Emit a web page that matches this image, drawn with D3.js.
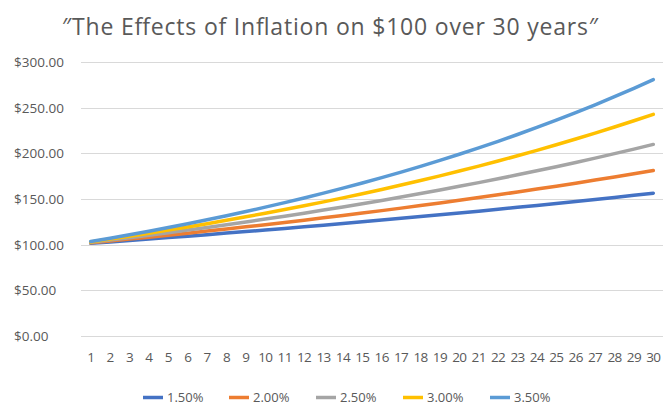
<!DOCTYPE html>
<html lang="en">
<head>
<meta charset="UTF-8">
<title>The Effects of Inflation on $100 over 30 years</title>
<script src="https://cdn.jsdelivr.net/npm/d3@7"></script>
<style>
  body { margin: 0; background: #fff; }
  text { font-family: "Open Sans", "Noto Sans", sans-serif; fill: #595959; }
</style>
</head>
<body>
<script>
// years 1..30
var years = d3.range(1, 31);
var seriesNames = ["1.50%", "2.00%", "2.50%", "3.00%", "3.50%"];
var seriesColors = ["#4472C4", "#ED7D31", "#A5A5A5", "#FFC000", "#5B9BD5"];
var yTicks = [0, 50, 100, 150, 200, 250, 300];

// value of $100 at end of each year
var rate150 = [101.50, 103.02, 104.57, 106.14, 107.73, 109.34, 110.98, 112.65, 114.34, 116.05,
               117.79, 119.56, 121.36, 123.18, 125.02, 126.90, 128.80, 130.73, 132.70, 134.69,
               136.71, 138.76, 140.84, 142.95, 145.09, 147.27, 149.48, 151.72, 154.00, 156.31];
var rate200 = [102.00, 104.04, 106.12, 108.24, 110.41, 112.62, 114.87, 117.17, 119.51, 121.90,
               124.34, 126.82, 129.36, 131.95, 134.59, 137.28, 140.02, 142.82, 145.68, 148.59,
               151.57, 154.60, 157.69, 160.84, 164.06, 167.34, 170.69, 174.10, 177.58, 181.14];
var rate250 = [102.50, 105.06, 107.69, 110.38, 113.14, 115.97, 118.87, 121.84, 124.89, 128.01,
               131.21, 134.49, 137.85, 141.30, 144.83, 148.45, 152.16, 155.97, 159.87, 163.86,
               167.96, 172.16, 176.46, 180.87, 185.39, 190.03, 194.78, 199.65, 204.64, 209.76];
var rate300 = [103.00, 106.09, 109.27, 112.55, 115.93, 119.41, 122.99, 126.68, 130.48, 134.39,
               138.42, 142.58, 146.85, 151.26, 155.80, 160.47, 165.28, 170.24, 175.35, 180.61,
               186.03, 191.61, 197.36, 203.28, 209.38, 215.66, 222.13, 228.79, 235.66, 242.73];
var rate350 = [103.50, 107.12, 110.87, 114.75, 118.77, 122.93, 127.23, 131.68, 136.29, 141.06,
               146.00, 151.11, 156.40, 161.87, 167.53, 173.40, 179.47, 185.75, 192.25, 198.98,
               205.94, 213.15, 220.61, 228.33, 236.32, 244.60, 253.16, 262.02, 271.19, 280.68];
var allSeries = [rate150, rate200, rate250, rate300, rate350];

var W = 663, H = 406;
var plotL = 81, plotR = 663, plotT = 62, plotB = 336;

var svg = d3.select("body").append("svg").attr("width", W).attr("height", H);

var x = d3.scaleBand().domain(years).range([plotL, plotR]);
var y = d3.scaleLinear().domain([0, 300]).range([plotB, plotT]);

// title
svg.append("text")
    .attr("x", 330).attr("y", 35)
    .attr("text-anchor", "middle")
    .attr("font-size", "23px")
    .attr("textLength", 536)
    .text("\u2033The Effects of Inflation on $100 over 30 years\u2033");

// gridlines
svg.append("g").selectAll("line").data(yTicks).enter().append("line")
    .attr("x1", plotL).attr("x2", plotR)
    .attr("y1", function (d) { return Math.round(y(d)) + 0.5; })
    .attr("y2", function (d) { return Math.round(y(d)) + 0.5; })
    .attr("stroke", "#d9d9d9").attr("stroke-width", 1);

// y labels (left aligned like the original)
svg.append("g").selectAll("text").data(yTicks).enter().append("text")
    .attr("x", 14)
    .attr("y", function (d) { return y(d) + 5; })
    .attr("font-size", "13.5px")
    .text(function (d) { return "$" + d.toFixed(2); });

// x axis labels
var xAxis = d3.axisBottom(x).tickSize(0).tickPadding(0);
var gx = svg.append("g").attr("transform", "translate(0," + (plotB + 26) + ")").call(xAxis);
gx.select(".domain").remove();
gx.selectAll("text").attr("font-size", "13.5px").attr("fill", "#595959")
    .attr("font-family", "'Open Sans', sans-serif").attr("letter-spacing", "-0.6px").attr("dy", 0);

// lines
var line = d3.line()
    .x(function (d, i) { return x(years[i]) + x.bandwidth() / 2; })
    .y(function (d) { return y(d); });

svg.append("g").selectAll("path").data(allSeries).enter().append("path")
    .attr("d", line)
    .attr("fill", "none")
    .attr("stroke", function (d, i) { return seriesColors[i]; })
    .attr("stroke-width", 3.5)
    .attr("stroke-linecap", "round")
    .attr("stroke-linejoin", "round");

// legend
var legendX = [143, 229, 316, 403, 490];
var lg = svg.append("g").selectAll("g").data(seriesNames).enter().append("g")
    .attr("transform", function (d, i) { return "translate(" + legendX[i] + ",397.5)"; });
lg.append("line")
    .attr("x1", 0).attr("x2", 20).attr("y1", 0).attr("y2", 0)
    .attr("stroke", function (d, i) { return seriesColors[i]; })
    .attr("stroke-width", 3.5);
lg.append("text")
    .attr("x", 24).attr("y", 4.5)
    .attr("font-size", "13px")
    .text(function (d) { return d; });
</script>
</body>
</html>
